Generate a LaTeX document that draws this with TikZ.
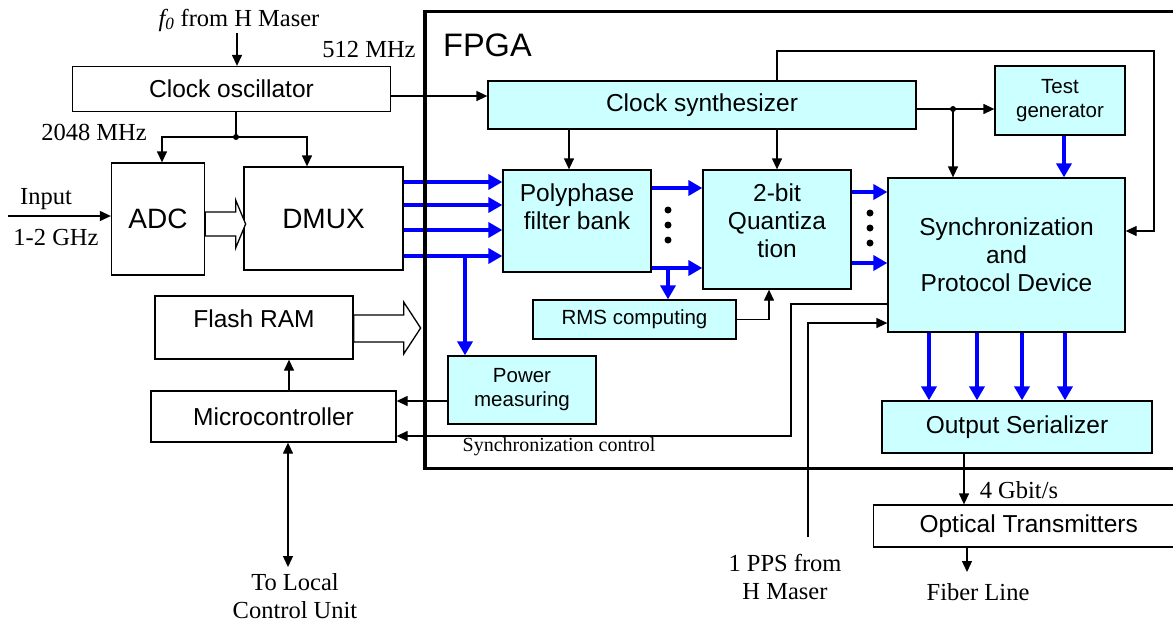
\documentclass[tikz,border=0pt]{standalone}
\usepackage{fontspec}
\setmainfont{Liberation Serif}
\setsansfont{Liberation Sans}
\usetikzlibrary{arrows.meta,calc}
\definecolor{fpgacyan}{HTML}{CCFFFF}
\newcommand{\bigsf}{\sffamily\fontsize{24.5}{28}\selectfont}
\newcommand{\smallsf}{\sffamily\fontsize{20.5}{24}\selectfont}
\newcommand{\bigrm}{\rmfamily\fontsize{24.5}{28}\selectfont}
\tikzset{
  blk/.style={draw, line width=1.3pt, inner sep=0pt, align=center, font=\bigsf},
  cblk/.style={blk, fill=fpgacyan},
  arr/.style={line width=1.3pt, -{Triangle[length=11pt,width=10pt]}},
  dblarr/.style={line width=1.3pt, {Triangle[length=11pt,width=10pt]}-{Triangle[length=11pt,width=10pt]}},
  barr/.style={line width=4.5pt, blue, -{Triangle[length=14pt,width=15pt]}},
  note/.style={font=\bigrm, inner sep=0pt, align=center},
  hollow/.style={draw, line width=1.3pt, fill=white, line join=miter},
}
\begin{document}
\begin{tikzpicture}[x=1pt, y=-1pt]
\useasboundingbox (0,0) rectangle (1173,622);
% outside the FPGA
\node[note] (f0) at (239,20) {\textit{f\textsubscript{0}} from H Maser};
\node[note] (f512) at (369,50) {512 MHz};
\node[blk, minimum width=318, minimum height=45] (osc) at (231.5,89) {Clock oscillator};
\node[note] (f2048) at (94,132) {2048 MHz};
\node[blk, minimum width=93, minimum height=112, font=\sffamily\fontsize{28}{32}\selectfont] (adc) at (158,219) {ADC};
\node[blk, minimum width=159, minimum height=103, font=\sffamily\fontsize{28}{32}\selectfont] (dmux) at (323.5,218.5) {DMUX};
\node[note] (inp) at (46,199) {Input};
\node[note] (band) at (56,238) {1-2 GHz};
\node[blk, minimum width=198, minimum height=63, text depth=18pt] (flash) at (254,327.5) {Flash RAM};
\node[blk, minimum width=245, minimum height=51] (micro) at (273.5,416.5) {Microcontroller};
\node[note] (local) at (295,596) {To Local\\Control Unit};
% inside the FPGA
\node[font=\sffamily\fontsize{32.5}{36}\selectfont, inner sep=0pt, anchor=west] (fpgalbl) at (443,45) {FPGA};
\node[cblk, minimum width=428, minimum height=48] (synth) at (702,105) {Clock synthesizer};
\node[cblk, font=\smallsf, minimum width=130, minimum height=69] (test) at (1060,100.5) {Test\\generator};
\node[cblk, minimum width=148, minimum height=102, text depth=28pt] (pfb) at (577,221) {Polyphase\\filter bank};
\node[cblk, minimum width=148, minimum height=119, text depth=17pt] (quant) at (777,229.5) {2-bit\\Quantiza\\tion};
\node[cblk, minimum width=237, minimum height=154] (sync) at (1006.5,255) {Synchronization\\and\\Protocol Device};
\node[cblk, font=\smallsf, minimum width=203, minimum height=39] (rms) at (634.5,319.5) {RMS computing};
\node[cblk, font=\smallsf, minimum width=148, minimum height=68] (power) at (522,390) {Power\\measuring};
\node[cblk, minimum width=270, minimum height=52] (outser) at (1017,427) {Output Serializer};
\node[note, font=\rmfamily\fontsize{20}{24}\selectfont] (synclbl) at (559,447) {Synchronization control};
\node[note] (gbit) at (1019,490) {4 Gbit/s};
\node[blk, minimum width=310, minimum height=42, anchor=west] (optic) at (873,526) {Optical Transmitters};
\node[note] (fiber) at (978,592) {Fiber Line};
\node[note] (pps) at (785,577) {1 PPS from\\H Maser};
% clock lines
\coordinate (f0in) at (237,33);
\draw[arr] (f0in) -- (f0in |- osc.north);
\draw[arr] ([yshift=-7pt]osc.east) -- ([yshift=-7pt]osc.east -| synth.west);
\coordinate (split) at (236,137);
\draw[line width=1.3pt] (split |- osc.south) -- (split);
\draw[arr] (split) -| ([xshift=4pt]adc.north);
\draw[arr] (split) -| ([xshift=-16.5pt]dmux.north);
\fill (split) circle (3pt);
\coordinate (inp0) at (8,216);
\draw[arr] (inp0) -- (inp0 -| adc.west);
\draw[arr] ([xshift=-8pt]pfb.north |- synth.south) -- ([xshift=-8pt]pfb.north);
\draw[arr] (quant.north |- synth.south) -- (quant.north);
\coordinate (tdot) at (953,109);
\draw[line width=1.3pt] (synth.east |- tdot) -- (tdot);
\draw[arr] (tdot) -- (tdot -| test.west);
\draw[arr] (tdot) -- (tdot |- sync.north);
\fill (tdot) circle (3pt);
\coordinate (fbtop) at (1154,51);
\coordinate (fbin) at (1154,231);
\draw[arr] (quant.north |- synth.north) |- (fbtop) -- (fbin) -- (fbin -| sync.east);
\draw[arr] (rms.east) -| ([xshift=-8pt]quant.south);
% hollow buses
\draw[hollow] ($(adc.east)+(0,-7)$) -- ++(30.5,0) -- ++(0,-12) -- ++(10,24)
  -- ++(-10,24) -- ++(0,-12) -- ++(-30.5,0) -- cycle;
\draw[hollow] ($(flash.east)+(0,-12.5)$) -- ++(50,0) -- ++(0,-13) -- ++(17,26)
  -- ++(-17,26) -- ++(0,-12) -- ++(-50,0) -- cycle;
% data paths
\foreach \dy in {36.5,13.5,-11.5,-37.5}
  \draw[barr] ([yshift=\dy pt]dmux.east) -- ([yshift=\dy pt]dmux.east -| pfb.west);
\coordinate (ptap) at (465,256);
\draw[barr] (ptap) -- (ptap |- power.north);
\foreach \dy in {33,-47}
  \draw[barr] ([yshift=\dy pt]pfb.east) -- ([yshift=\dy pt]pfb.east -| quant.west);
\coordinate (rtap) at (668,268);
\draw[barr] (rtap) -- (rtap |- rms.north);
\foreach \dy in {37.5,-33.5}
  \draw[barr] ([yshift=\dy pt]quant.east) -- ([yshift=\dy pt]quant.east -| sync.west);
\draw[barr] ([xshift=4pt]test.south) -- ([xshift=4pt]test.south |- sync.north);
\foreach \dx in {-77.5,-29.5,15.5,58.5}
  \draw[barr] ([xshift=\dx pt]sync.south) -- ([xshift=\dx pt]sync.south |- outser.north);
\foreach \y in {210,225,240}
  \fill (668,\y) circle (3.5pt) (870,\y+3) circle (3.5pt);
% control lines
\draw[arr] ([yshift=-11pt]power.west) -- ([yshift=-11pt]power.west -| micro.east);
\coordinate (scup) at (791,304);
\coordinate (scdn) at (791,436);
\draw[arr] (scup -| sync.west) -- (scup) -- (scdn) -- (scdn -| micro.east);
\coordinate (ppsbot) at (808,537);
\coordinate (ppsin) at (808,323);
\draw[arr] (ppsbot) -- (ppsin) -- (ppsin -| sync.west);
\draw[arr] ([xshift=15.5pt]micro.north) -- ([xshift=15.5pt]micro.north |- flash.south);
\coordinate (lcu) at (288,567);
\draw[dblarr] (lcu |- micro.south) -- (lcu);
\draw[arr] ([xshift=-53pt]outser.south) -- ([xshift=-53pt]outser.south |- optic.north);
\coordinate (fib) at (967,572);
\draw[arr] (fib |- optic.south) -- (fib);
% FPGA border
\draw[line width=3.5pt] (1180,11.5) -- (425,11.5) -- (425,468.5) -- (1180,468.5);
\end{tikzpicture}
\end{document}
